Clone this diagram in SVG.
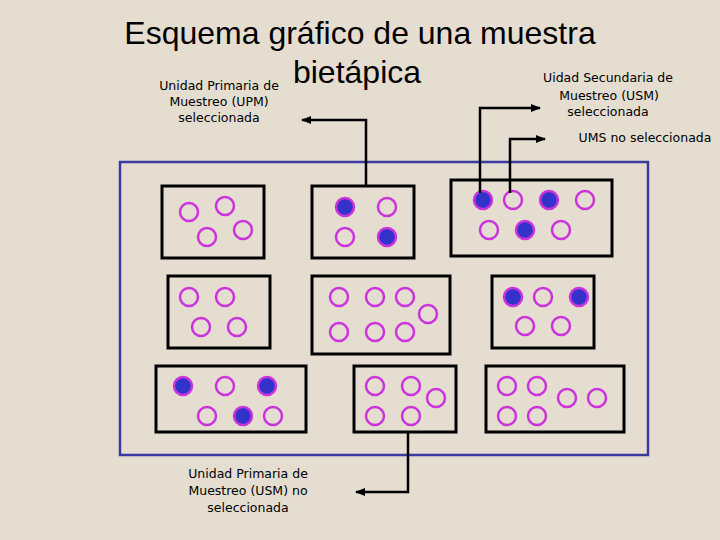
<svg xmlns="http://www.w3.org/2000/svg" width="720" height="540" viewBox="0 0 720 540">
<defs>
<marker id="ah" markerWidth="10" markerHeight="8" refX="9" refY="4" orient="auto" markerUnits="userSpaceOnUse"><path d="M0,0 L10,4 L0,8 Z" fill="#000"/></marker>
<style>
.t{font-family:"Liberation Sans",Arial,sans-serif;fill:#000}
.s{font-family:"DejaVu Sans",sans-serif;font-size:12.5px;text-anchor:middle}
.b{fill:none;stroke:#000;stroke-width:3}
.o{fill:none;stroke:#cc33dd;stroke-width:2.5}
.f{fill:#3333cc;stroke:#cc33dd;stroke-width:2.5}
.c{fill:none;stroke:#000;stroke-width:2.5}
</style>
</defs>
<rect width="720" height="540" fill="#e4ddd0"/>
<text class="t" x="360" y="44" font-size="32" text-anchor="middle">Esquema gráfico de una muestra</text>
<text class="t" x="357" y="83" font-size="32" text-anchor="middle">bietápica</text>
<text class="t s" x="219" y="90">Unidad Primaria de</text>
<text class="t s" x="219" y="106">Muestreo (UPM)</text>
<text class="t s" x="219" y="122">seleccionada</text>
<text class="t s" x="608" y="82">Uidad Secundaria de</text>
<text class="t s" x="609" y="100">Muestreo (USM)</text>
<text class="t s" x="608" y="116">seleccionada</text>
<text class="t s" x="645" y="142">UMS no seleccionada</text>
<text class="t s" x="248" y="478">Unidad Primaria de</text>
<text class="t s" x="248" y="495">Muestreo (USM) no</text>
<text class="t s" x="248" y="512">seleccionada</text>
<rect x="120" y="162" width="528" height="293" fill="none" stroke="#3a3aa0" stroke-width="2.5"/>
<g id="n1"><rect class="b" x="162" y="186" width="102" height="72"/><circle class="o" cx="189" cy="212" r="9"/><circle class="o" cx="225" cy="206" r="9"/><circle class="o" cx="207" cy="237" r="9"/><circle class="o" cx="243" cy="230" r="9"/></g>
<g id="n2"><rect class="b" x="312" y="186" width="102" height="72"/><circle class="f" cx="345" cy="207" r="9"/><circle class="o" cx="387" cy="207" r="9"/><circle class="o" cx="345" cy="237" r="9"/><circle class="f" cx="387" cy="237" r="9"/></g>
<g id="n3"><rect class="b" x="451" y="180" width="161" height="76"/><circle class="f" cx="483" cy="200" r="9"/><circle class="o" cx="513" cy="200" r="9"/><circle class="f" cx="549" cy="200" r="9"/><circle class="o" cx="585" cy="200" r="9"/><circle class="o" cx="489" cy="230" r="9"/><circle class="f" cx="525" cy="230" r="9"/><circle class="o" cx="561" cy="230" r="9"/></g>
<g id="n4"><rect class="b" x="168" y="276" width="102" height="72"/><circle class="o" cx="189" cy="297" r="9"/><circle class="o" cx="225" cy="297" r="9"/><circle class="o" cx="201" cy="327" r="9"/><circle class="o" cx="237" cy="327" r="9"/></g>
<g id="n5"><rect class="b" x="312" y="276" width="138" height="78"/><circle class="o" cx="339" cy="297" r="9"/><circle class="o" cx="375" cy="297" r="9"/><circle class="o" cx="405" cy="297" r="9"/><circle class="o" cx="428" cy="314" r="9"/><circle class="o" cx="339" cy="332" r="9"/><circle class="o" cx="375" cy="332" r="9"/><circle class="o" cx="405" cy="332" r="9"/></g>
<g id="n6"><rect class="b" x="492" y="276" width="102" height="72"/><circle class="f" cx="513" cy="297" r="9"/><circle class="o" cx="543" cy="297" r="9"/><circle class="f" cx="579" cy="297" r="9"/><circle class="o" cx="525" cy="326" r="9"/><circle class="o" cx="561" cy="326" r="9"/></g>
<g id="n7"><rect class="b" x="156" y="366" width="150" height="66"/><circle class="f" cx="183" cy="386" r="9"/><circle class="o" cx="225" cy="386" r="9"/><circle class="f" cx="267" cy="386" r="9"/><circle class="o" cx="207" cy="416" r="9"/><circle class="f" cx="243" cy="416" r="9"/><circle class="o" cx="273" cy="416" r="9"/></g>
<g id="n8"><rect class="b" x="354" y="366" width="102" height="66"/><circle class="o" cx="375" cy="386" r="9"/><circle class="o" cx="411" cy="386" r="9"/><circle class="o" cx="436" cy="398" r="9"/><circle class="o" cx="375" cy="416" r="9"/><circle class="o" cx="411" cy="416" r="9"/></g>
<g id="n9"><rect class="b" x="486" y="366" width="138" height="66"/><circle class="o" cx="507" cy="386" r="9"/><circle class="o" cx="537" cy="386" r="9"/><circle class="o" cx="567" cy="398" r="9"/><circle class="o" cx="597" cy="398" r="9"/><circle class="o" cx="507" cy="416" r="9"/><circle class="o" cx="537" cy="416" r="9"/></g>
<g id="connectors">
<polyline class="c" points="366,186 366,120 302,120" marker-end="url(#ah)"/>
<polyline class="c" points="480,193 480,108 540,108" marker-end="url(#ah)"/>
<polyline class="c" points="510,193 510,139 545,139" marker-end="url(#ah)"/>
<polyline class="c" points="408,432 408,492 356,492" marker-end="url(#ah)"/>
</g>
</svg>
